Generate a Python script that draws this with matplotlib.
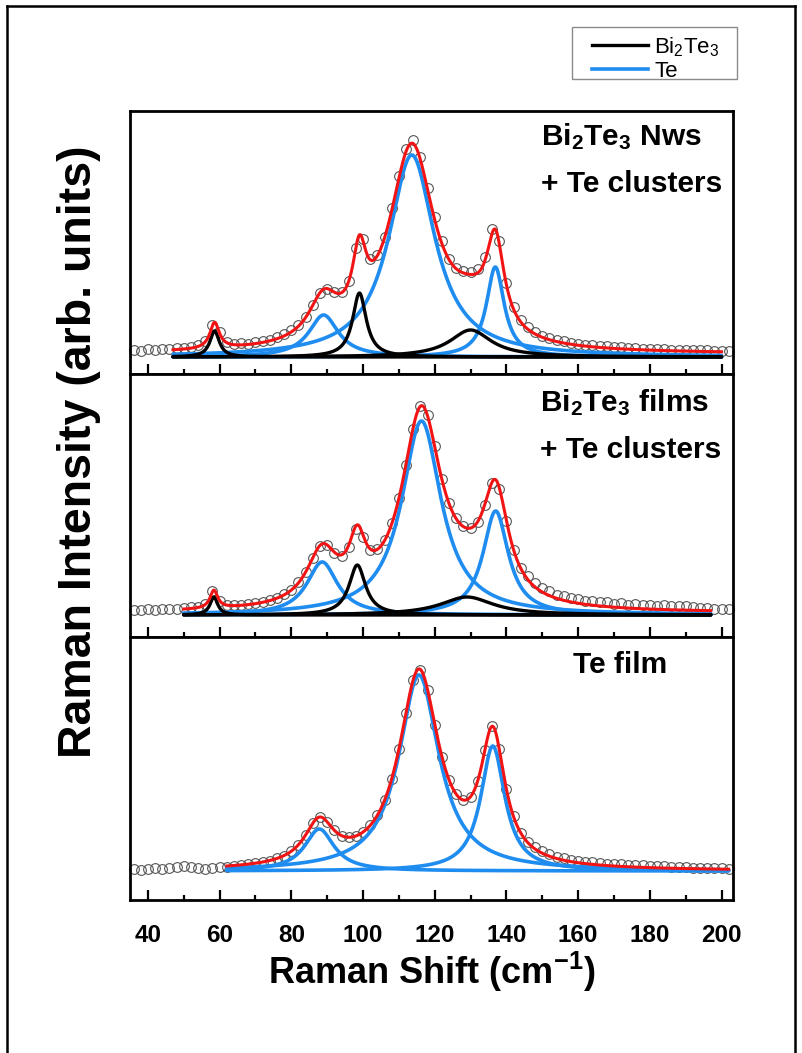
import numpy as np
import matplotlib
matplotlib.use('Agg')
import matplotlib.pyplot as plt
from matplotlib.lines import Line2D
from matplotlib.patches import Rectangle

plt.rcParams['mathtext.default'] = 'regular'
NARROW = ['Liberation Sans Narrow', 'Liberation Sans', 'DejaVu Sans']
WIDE = ['Liberation Sans', 'DejaVu Sans']

# ---------------- data ----------------
raman_shift = np.arange(36, 203, 2)   # positions of the measured points (cm^-1)

nws_intensity = [7.0, 6.2, 7.8, 6.9, 8.2, 7.6, 8.6, 9.4, 10.0, 11.9,
                 16.5, 32.0, 25.5, 15.4, 13.0, 13.8, 13.5, 15.2, 16.1, 17.2,
                 20.3, 22.9, 27.5, 32.0, 40.5, 52.5, 64.5, 68.0, 65.0, 65.0,
                 76.0, 109.0, 117.5, 98.0, 101.5, 120.0, 148.5, 180.5, 207.5, 216.5,
                 199.5, 169.0, 139.8, 115.5, 98.0, 89.0, 86.0, 84.5, 88.0, 100.0,
                 128.0, 116.0, 74.5, 50.0, 37.0, 29.8, 25.1, 21.5, 19.4, 16.8,
                 15.9, 14.0, 13.5, 12.0, 11.9, 10.7, 10.6, 9.6, 9.8, 8.8,
                 9.0, 8.1, 8.4, 7.6, 7.9, 7.2, 7.5, 6.8, 7.1, 6.6,
                 6.8, 6.3, 6.5, 6.2]

films_intensity = [5.4, 4.8, 5.9, 5.3, 6.2, 5.8, 6.5, 7.0, 7.6, 8.4,
                   11.4, 24.0, 14.5, 10.4, 10.2, 10.5, 11.1, 12.2, 13.4, 15.1,
                   17.3, 20.9, 25.5, 32.6, 43.2, 57.4, 69.4, 69.7, 62.4, 59.5,
                   68.2, 85.8, 77.6, 65.3, 65.9, 74.7, 91.6, 117.2, 150.4, 186.5,
                   209.5, 199.9, 168.9, 136.3, 112.0, 96.8, 89.0, 87.2, 93.5, 110.5,
                   131.9, 126.4, 93.9, 65.2, 47.0, 38.8, 31.6, 26.7, 23.6, 20.2,
                   19.0, 16.6, 16.1, 14.2, 14.1, 12.6, 12.8, 11.4, 11.7, 10.5,
                   10.9, 9.8, 10.3, 9.3, 9.9, 8.9, 9.4, 8.6, 8.0, 7.5,
                   7.0, 6.5, 6.0, 5.6]

tefilm_intensity = [2.0, 1.5, 2.5, 3.0, 2.5, 3.5, 4.5, 5.0, 4.0, 3.5,
                    2.5, 3.0, 4.0, 4.5, 5.5, 6.2, 6.9, 7.8, 9.0, 10.5,
                    12.6, 15.5, 19.8, 26.3, 36.0, 47.9, 54.1, 49.1, 40.6, 35.5,
                    33.8, 34.9, 38.9, 45.6, 55.9, 70.8, 92.1, 121.7, 158.4, 191.3,
                    201.5, 181.5, 146.5, 114.3, 91.1, 76.8, 71.1, 74.5, 90.3, 121.1,
                    144.7, 121.7, 81.9, 54.7, 37.9, 29.2, 23.6, 19.6, 16.7, 14.5,
                    12.8, 11.4, 10.3, 9.4, 8.6, 8.0, 7.4, 7.0, 6.6, 6.2,
                    5.9, 5.6, 5.3, 5.0, 4.7, 4.4, 4.1, 3.8, 3.5, 3.2,
                    3.0, 2.8, 2.6, 2.4]

# Lorentzian fit components: centre (cm^-1), height, half width at half max
nws_bi2te3_center = [58.6, 99.0, 130.0]
nws_bi2te3_height = [26, 64, 27]
nws_bi2te3_hwhm = [1.6, 2.3, 7.0]
nws_te_center = [89.0, 113.6, 136.9]
nws_te_height = [42, 202, 90]
nws_te_hwhm = [5.0, 7.8, 3.0]

films_bi2te3_center = [58.4, 98.4, 129.0]
films_bi2te3_height = [18, 50, 18]
films_bi2te3_hwhm = [1.3, 2.8, 9.0]
films_te_center = [88.6, 116.3, 137.0]
films_te_height = [53, 194, 104]
films_te_hwhm = [5.2, 6.7, 4.3]

tefilm_te_center = [87.8, 115.6, 136.2]
tefilm_te_height = [42, 196, 125]
tefilm_te_hwhm = [5.0, 6.8, 4.1]

fit_range = [(47, 200), (50, 197), (62, 202)]
fit_offset = [3, 2, 0]

panel_titles = [('Bi$_2$Te$_3$ Nws', '+ Te clusters'),
                ('Bi$_2$Te$_3$ films', '+ Te clusters'),
                ('Te film', None)]
xticks = [40, 60, 80, 100, 120, 140, 160, 180, 200]

# ---------------- style ----------------
RED = '#f21414'
BLUE = '#1f8cf0'
BLACK = '#000000'
W, H = 803, 1053


def lor(x, c, h, g):
    return h * g ** 2 / ((x - c) ** 2 + g ** 2)


fig = plt.figure(figsize=(W / 100, H / 100), dpi=100)

ax_left, ax_w = 130 / W, 603 / W
panel_h = 263 / H
tops = [111, 374, 637]
ylims = [(-17, 246), (-22, 241), (-29, 234)]

panels = [
    (nws_intensity, [(nws_bi2te3_center, nws_bi2te3_height, nws_bi2te3_hwhm)],
     [(nws_te_center, nws_te_height, nws_te_hwhm)]),
    (films_intensity, [(films_bi2te3_center, films_bi2te3_height, films_bi2te3_hwhm)],
     [(films_te_center, films_te_height, films_te_hwhm)]),
    (tefilm_intensity, [], [(tefilm_te_center, tefilm_te_height, tefilm_te_hwhm)]),
]

axes = []
for i, (inten, bi_sets, te_sets) in enumerate(panels):
    bottom = 1 - (tops[i] + 263) / H
    ax = fig.add_axes([ax_left, bottom, ax_w, panel_h])
    axes.append(ax)
    ax.plot(raman_shift, inten, linestyle='none', marker='o', markersize=7,
            markerfacecolor='none', markeredgecolor='#555555', markeredgewidth=0.8,
            zorder=1, clip_on=False)
    lo, hi = fit_range[i]
    xf = np.linspace(lo, hi, 800)
    total = np.zeros_like(xf) + fit_offset[i]
    for (cs, hs, gs) in te_sets:
        for c, h, g in zip(cs, hs, gs):
            yv = lor(xf, c, h, g)
            total += yv
            ax.plot(xf, yv, color=BLUE, lw=2.6, zorder=2, solid_capstyle='round')
    for (cs, hs, gs) in bi_sets:
        for c, h, g in zip(cs, hs, gs):
            yv = lor(xf, c, h, g)
            total += yv
            ax.plot(xf, yv, color=BLACK, lw=2.4, zorder=3, solid_capstyle='round')
    ax.plot(xf, total, color=RED, lw=2.2, zorder=4)

    ax.set_xlim(35, 203.2)
    ax.set_ylim(*ylims[i])
    ax.set_yticks([])
    ax.set_xticks(xticks)
    ax.set_xticks(np.arange(50, 201, 20), minor=True)
    ax.tick_params(axis='x', which='major', direction='in', length=7, width=1.6,
                   top=False, pad=17)
    ax.tick_params(axis='x', which='minor', direction='in', length=3.5, width=1.6,
                   top=False)
    for s in ax.spines.values():
        s.set_linewidth(2.0)
    if i < 2:
        ax.tick_params(axis='x', labelbottom=False)
    else:
        for lab in ax.get_xticklabels():
            lab.set_fontfamily(NARROW)
            lab.set_fontweight('bold')
            lab.set_fontsize(17.5)

# x label
axes[2].set_xlabel('Raman Shift (cm$^{-1}$)', fontsize=26, fontweight='bold',
                   family=NARROW, labelpad=2.5)

# y label
fig.text(79 / W, 1 - 452 / H, 'Raman Intensity (arb. units)', rotation=90,
         ha='center', va='center', fontsize=33.5, fontweight='bold', family=NARROW)

# panel titles
title_pos = [((541, 145), (541, 192)), ((540, 411), (540, 458)), ((573, 673), None)]
for (l1, l2), (p1, p2) in zip(panel_titles, title_pos):
    fig.text(p1[0] / W, 1 - p1[1] / H, l1, ha='left', va='baseline', fontsize=21.5,
             fontweight='bold', family=WIDE)
    if l2:
        fig.text(p2[0] / W, 1 - p2[1] / H, l2, ha='left', va='baseline', fontsize=21.5,
                 fontweight='bold', family=WIDE)

# legend (box drawn separately so the padding matches)
fig.add_artist(Rectangle((572 / W, 1 - 79 / H), 165 / W, 52 / H, transform=fig.transFigure,
                         facecolor='white', edgecolor='#8a8a8a', lw=1.0, zorder=5))
handles = [Line2D([], [], color=BLACK, lw=2.4), Line2D([], [], color=BLUE, lw=2.6)]
leg = fig.legend(handles, ['Bi$_2$Te$_3$', 'Te'], loc='upper left',
                 bbox_to_anchor=(592 / W, 1 - 35 / H), frameon=False,
                 prop={'family': NARROW, 'size': 16}, handlelength=2.5,
                 handletextpad=0.3, borderpad=0.0, labelspacing=0.12,
                 borderaxespad=0)
leg.set_zorder(6)

# figure border
for xs, ys in [((7 / W, 7 / W), (0, 1 - 6 / H)),
               ((7 / W, 795 / W), (1 - 6 / H, 1 - 6 / H)),
               ((795 / W, 795 / W), (0, 1 - 6 / H))]:
    fig.add_artist(Line2D(xs, ys, color='black', lw=1.8, transform=fig.transFigure))

fig.savefig('out.png', dpi=100)
